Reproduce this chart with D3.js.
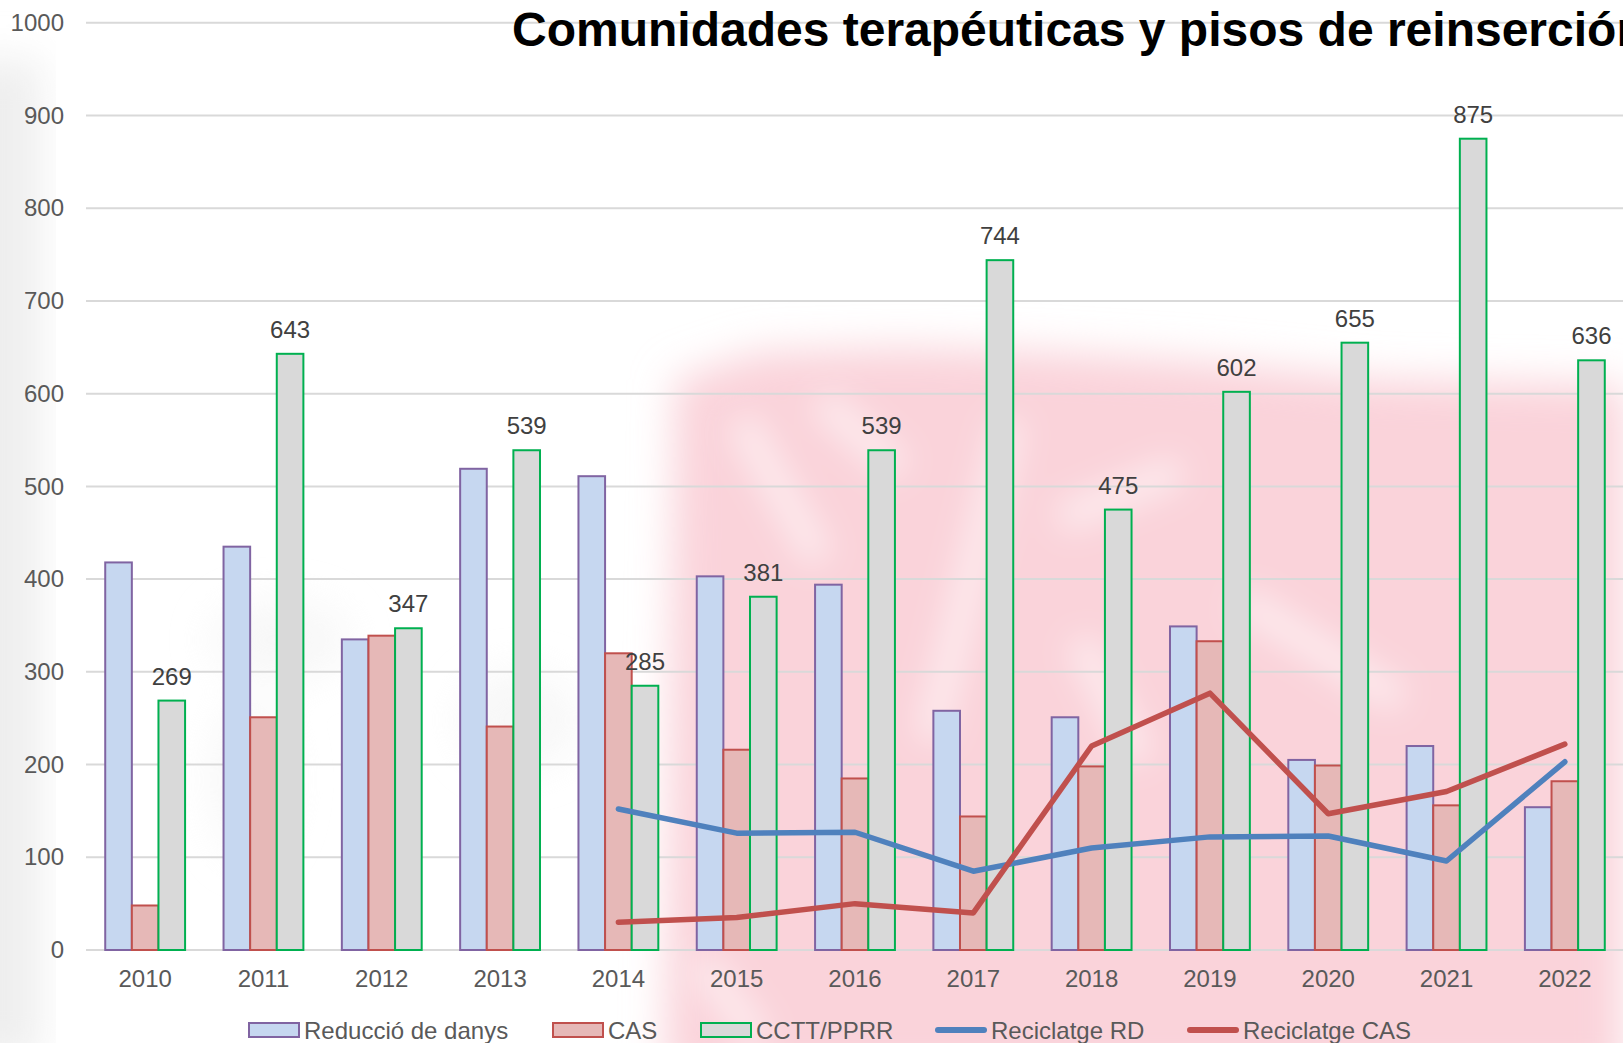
<!DOCTYPE html>
<html>
<head>
<meta charset="utf-8">
<script src="https://cdn.jsdelivr.net/npm/d3@7"></script>
<style>
  body { margin: 0; background: #fff; overflow: hidden; }
  svg { display: block; font-family: "Liberation Sans", Arial, sans-serif; }
</style>
</head>
<body>
<div id="app"></div>
<script>
// data
const years = ['2010','2011','2012','2013','2014','2015','2016','2017','2018','2019','2020','2021','2022']
const reduccio = [418, 435, 335, 519, 511, 403, 394, 258, 251, 349, 205, 220, 154]
const cas = [48, 251, 339, 241, 320, 216, 185, 144, 198, 333, 199, 156, 182]
const cctt = [269, 643, 347, 539, 285, 381, 539, 744, 475, 602, 655, 875, 636]
const recYears = ['2014','2015','2016','2017','2018','2019','2020','2021','2022']
const recRD = [152, 126, 127, 85, 110, 122, 123, 96, 203]
const recCAS = [30, 35, 50, 40, 220, 277, 147, 171, 222]
const yTicks = [0, 100, 200, 300, 400, 500, 600, 700, 800, 900, 1000]
const title = 'Comunidades terapéuticas y pisos de reinserción'

const W = 1623, H = 1043
const svg = d3.select('#app').append('svg').attr('width', W).attr('height', H)

// blurry watermark behind the chart
const defs = svg.append('defs')
defs.append('filter').attr('id','blur').attr('x','-20%').attr('y','-20%').attr('width','140%').attr('height','140%')
  .append('feGaussianBlur').attr('stdDeviation', 20)
defs.append('filter').attr('id','blur2').attr('x','-50%').attr('y','-50%').attr('width','200%').attr('height','200%')
  .append('feGaussianBlur').attr('stdDeviation', 16)

const bg = svg.append('g')
const pink = '#fad3da'
bg.append('path').attr('filter','url(#blur)').attr('fill', pink)
  .attr('d','M675,380 L760,352 L900,348 L1040,352 L1200,362 L1380,380 L1623,385 L1623,1080 L665,1080 Z')
bg.append('g').attr('filter','url(#blur2)').attr('stroke','#fff').attr('stroke-opacity',0.55).attr('fill','none')
  .selectAll('path').data([
    'M740,420 L820,560',
    'M820,400 L900,470',
    'M1010,420 L930,740',
    'M1060,520 L1180,470',
    'M1240,600 L1400,700',
    'M700,960 L760,1043',
    'M1080,640 L1140,760'
  ]).join('path').attr('d', d => d).attr('stroke-width', 30)
bg.append('rect').attr('filter','url(#blur)').attr('fill','#eeeeee')
  .attr('x', -40).attr('y', 60).attr('width', 80).attr('height', 1000)
bg.append('g').attr('filter','url(#blur)').attr('fill','#f3f3f3').attr('opacity',0.6)
  .selectAll('ellipse').data([[280,640,70,40],[520,720,60,50],[250,780,40,80]]).join('ellipse')
  .attr('cx', d => d[0]).attr('cy', d => d[1]).attr('rx', d => d[2]).attr('ry', d => d[3])

// scales
const x = d3.scaleBand().domain(years).range([86, 1624]).paddingInner(0.325).paddingOuter(0.1625)
const series = ['reduccio','cas','cctt']
const xs = d3.scaleBand().domain(series).range([0, x.bandwidth()])
const y = d3.scaleLinear().domain([0, 1000]).range([950, 22.8])

// grid
svg.append('g').selectAll('line').data(yTicks).join('line')
  .attr('x1', 86).attr('x2', W).attr('y1', d => y(d)).attr('y2', d => y(d))
  .attr('stroke', '#d9d9d9').attr('stroke-width', 2)

const yAxis = svg.append('g').attr('transform', 'translate(86,0)')
  .call(d3.axisLeft(y).tickValues(yTicks).tickFormat(d3.format('d')).tickSize(0).tickPadding(22))
yAxis.select('.domain').remove()
yAxis.selectAll('text').attr('font-size', 24).attr('fill', '#595959').attr('font-family', null)

const xAxis = svg.append('g').attr('transform', 'translate(0,950)')
  .call(d3.axisBottom(x).tickSize(0).tickPadding(20))
xAxis.select('.domain').remove()
xAxis.selectAll('text').attr('font-size', 24).attr('fill', '#595959').attr('font-family', null)

// bars
const styles = {
  reduccio: {fill: '#c6d7f0', stroke: '#8064a2'},
  cas: {fill: '#e6b8b7', stroke: '#c0504d'},
  cctt: {fill: '#d9d9d9', stroke: '#00b050'}
}
const vals = {reduccio, cas, cctt}
const rows = []
years.forEach((yr, i) => series.forEach(s => rows.push({year: yr, s, v: vals[s][i]})))

svg.append('g').selectAll('rect').data(rows).join('rect')
  .attr('x', d => x(d.year) + xs(d.s))
  .attr('y', d => y(d.v))
  .attr('width', xs.bandwidth())
  .attr('height', d => y(0) - y(d.v))
  .attr('fill', d => styles[d.s].fill)
  .attr('stroke', d => styles[d.s].stroke)
  .attr('stroke-width', 2)

// labels on CCTT bars
svg.append('g').selectAll('text').data(cctt).join('text')
  .attr('x', (d, i) => x(years[i]) + xs('cctt') + xs.bandwidth() / 2)
  .attr('y', d => y(d) - 16)
  .attr('text-anchor', 'middle').attr('font-size', 24).attr('fill', '#404040')
  .text(d => d)

// lines
const line = d3.line().x(d => x(d[0]) + x.bandwidth() / 2).y(d => y(d[1]))
svg.append('path').datum(recYears.map((yr, i) => [yr, recRD[i]]))
  .attr('d', line).attr('fill', 'none').attr('stroke', '#4f81bd').attr('stroke-width', 5.5)
  .attr('stroke-linejoin', 'round').attr('stroke-linecap', 'round')
svg.append('path').datum(recYears.map((yr, i) => [yr, recCAS[i]]))
  .attr('d', line).attr('fill', 'none').attr('stroke', '#c0504d').attr('stroke-width', 5.5)
  .attr('stroke-linejoin', 'round').attr('stroke-linecap', 'round')

// title (runs past the right edge, as in the original)
svg.append('text').attr('x', 512).attr('y', 46).attr('font-size', 48).attr('font-weight', 'bold')
  .attr('fill', '#000').text(title)

// legend
const legendItems = [
  {name: 'Reducció de danys', type: 'rect', fill: styles.reduccio.fill, stroke: styles.reduccio.stroke, x: 248},
  {name: 'CAS', type: 'rect', fill: styles.cas.fill, stroke: styles.cas.stroke, x: 552},
  {name: 'CCTT/PPRR', type: 'rect', fill: styles.cctt.fill, stroke: styles.cctt.stroke, x: 700},
  {name: 'Reciclatge RD', type: 'line', stroke: '#4f81bd', x: 935},
  {name: 'Reciclatge CAS', type: 'line', stroke: '#c0504d', x: 1187}
]
const lg = svg.append('g').selectAll('g').data(legendItems).join('g')
  .attr('transform', d => `translate(${d.x},1030)`)
lg.filter(d => d.type === 'rect').append('rect')
  .attr('x', 1).attr('y', -7).attr('width', 50).attr('height', 14)
  .attr('fill', d => d.fill).attr('stroke', d => d.stroke).attr('stroke-width', 2)
lg.filter(d => d.type === 'line').append('line')
  .attr('x1', 3).attr('x2', 49).attr('y1', 0).attr('y2', 0)
  .attr('stroke', d => d.stroke).attr('stroke-width', 6).attr('stroke-linecap', 'round')
lg.append('text').attr('x', 56).attr('y', 8.5).attr('font-size', 24).attr('fill', '#595959')
  .text(d => d.name)
</script>
</body>
</html>
